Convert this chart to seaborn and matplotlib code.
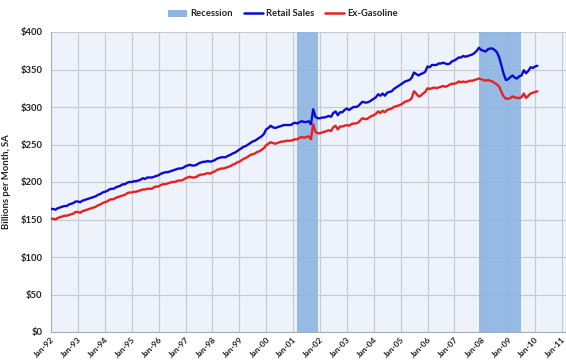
import numpy as np
import pandas as pd
import matplotlib
matplotlib.use("Agg")
import matplotlib.pyplot as plt
from matplotlib.patches import Patch
from matplotlib.lines import Line2D
import seaborn as sns

# Monthly values, Jan-1992 .. Feb-2010 (billions per month, SA)
retail_sales = [
    164, 164, 163, 165, 166, 167, 168, 168, 170, 171, 172, 174,   # 1992
    174, 173, 175, 176, 177, 178, 179, 180, 181, 183, 184, 186,   # 1993
    187, 188, 190, 191, 191, 193, 194, 195, 197, 197, 199, 200,   # 1994
    200, 201, 201, 202, 203, 205, 204, 206, 206, 206, 207, 208,   # 1995
    209, 211, 212, 213, 213, 214, 215, 216, 217, 218, 218, 219,   # 1996
    221, 222, 223, 222, 222, 223, 225, 226, 227, 227, 228, 227,   # 1997
    228, 229, 231, 232, 233, 233, 233, 235, 236, 238, 239, 241,   # 1998
    243, 245, 247, 248, 250, 252, 254, 255, 257, 259, 261, 264,   # 1999
    270, 272, 275, 273, 272, 273, 274, 275, 276, 276, 276, 276,   # 2000
    278, 279, 278, 280, 281, 280, 280, 281, 277, 297, 287, 285,   # 2001
    285, 286, 286, 287, 288, 287, 292, 294, 289, 293, 293, 296,   # 2002
    298, 296, 298, 300, 300, 301, 304, 307, 306, 306, 307, 309,   # 2003
    311, 313, 317, 315, 318, 315, 319, 320, 321, 324, 326, 328,   # 2004
    330, 332, 334, 335, 336, 339, 346, 344, 342, 344, 345, 347,   # 2005
    354, 353, 356, 356, 356, 358, 358, 359, 358, 357, 358, 361,   # 2006
    362, 364, 366, 366, 368, 367, 368, 369, 370, 372, 375, 379,   # 2007
    376, 375, 374, 377, 378, 378, 376, 373, 366, 355, 344, 336,   # 2008
    337, 340, 342, 339, 338, 341, 342, 349, 345, 348, 353, 352,   # 2009
    354, 355,                                                     # 2010
]
ex_gasoline = [
    151, 151, 150, 152, 153, 154, 155, 155, 156, 157, 158, 160,   # 1992
    160, 159, 161, 162, 163, 164, 165, 166, 167, 169, 170, 172,   # 1993
    173, 174, 176, 177, 177, 179, 180, 181, 182, 183, 185, 186,   # 1994
    186, 187, 187, 188, 189, 190, 190, 191, 191, 191, 193, 194,   # 1995
    194, 196, 197, 197, 198, 199, 200, 200, 201, 202, 202, 203,   # 1996
    205, 206, 207, 206, 206, 207, 209, 210, 210, 211, 212, 211,   # 1997
    213, 214, 216, 217, 218, 218, 219, 220, 221, 223, 224, 226,   # 1998
    227, 229, 231, 232, 234, 236, 237, 238, 240, 241, 243, 245,   # 1999
    249, 251, 253, 252, 251, 252, 253, 254, 254, 255, 255, 255,   # 2000
    256, 257, 257, 259, 260, 259, 260, 261, 257, 277, 267, 265,   # 2001
    265, 266, 267, 268, 269, 268, 273, 275, 270, 274, 274, 275,   # 2002
    276, 275, 277, 278, 278, 279, 282, 285, 284, 284, 286, 288,   # 2003
    289, 291, 294, 292, 295, 293, 296, 297, 298, 300, 301, 302,   # 2004
    303, 305, 307, 308, 309, 312, 321, 318, 314, 315, 318, 320,   # 2005
    325, 324, 325, 326, 325, 326, 327, 328, 327, 328, 330, 331,   # 2006
    331, 332, 334, 333, 334, 333, 334, 335, 335, 336, 337, 338,   # 2007
    337, 336, 335, 336, 335, 334, 332, 330, 327, 320, 314, 311,   # 2008
    311, 312, 314, 313, 312, 312, 313, 318, 312, 315, 318, 319,   # 2009
    320, 321,                                                     # 2010
]
recession_starts = ["2001-03-01", "2007-12-01"]
recession_ends = ["2001-11-30", "2009-06-30"]
series_names = ["Retail Sales", "Ex-Gasoline"]
series_colors = ["#0B0BD0", "#E82020"]
recession_color = "#8DB4E2"
y_ticks = [0, 50, 100, 150, 200, 250, 300, 350, 400]
tick_years = list(range(1992, 2012))

dates = pd.date_range("1992-01-01", periods=len(retail_sales), freq="MS")
df = pd.DataFrame({
    "date": np.concatenate([dates, dates]),
    "value": retail_sales + ex_gasoline,
    "series": [series_names[0]] * len(dates) + [series_names[1]] * len(dates),
})

sns.set_theme(style="white")
plt.rcParams["font.family"] = ["Lato", "DejaVu Sans"]

fig = plt.figure(figsize=(5.66, 3.63), dpi=100)
ax = fig.add_axes([51 / 566, 31 / 363, 515 / 566, 300 / 363])
ax.set_facecolor("#EEF3FB")

for s, e in zip(recession_starts, recession_ends):
    ax.axvspan(pd.Timestamp(s), pd.Timestamp(e), color=recession_color, alpha=0.9,
               zorder=1, lw=0)

sns.lineplot(data=df, x="date", y="value", hue="series", palette=series_colors,
             hue_order=series_names, linewidth=1.7, legend=False, ax=ax, zorder=3)

ax.set_ylim(0, 400)
ax.set_yticks(y_ticks)
ax.set_yticklabels([f"${v}" for v in y_ticks])
ax.set_xlim(pd.Timestamp("1992-01-01"), pd.Timestamp("2011-02-25"))
xt = [pd.Timestamp(f"{y}-01-01") for y in tick_years]
ax.set_xticks(xt)
ax.set_xticklabels([f"Jan-{str(y)[2:]}" for y in tick_years], rotation=45,
                   ha="right", rotation_mode="anchor")

ax.grid(True, color="#C6CAD2", lw=0.8, zorder=0)
ax.set_axisbelow(True)
for side in ["top", "right"]:
    ax.spines[side].set_visible(False)
for side in ["left", "bottom"]:
    ax.spines[side].set_color("#A8ACB4")
    ax.spines[side].set_linewidth(0.8)

ax.tick_params(axis="y", length=3, width=0.8, color="#A8ACB4",
               labelsize=6.8, labelcolor="#222222", pad=3)
ax.tick_params(axis="x", length=2, width=0.8, color="#A8ACB4",
               labelsize=6.0, labelcolor="#222222", pad=1)
for lab in ax.get_xticklabels() + ax.get_yticklabels():
    lab.set_fontweight("bold")

ax.set_xlabel("")
ax.set_ylabel("Billions per Month, SA", fontsize=6.8, fontweight="bold",
              color="#222222", labelpad=7)

handles = [
    Patch(facecolor=recession_color, edgecolor="none", label="Recession"),
    Line2D([0], [0], color=series_colors[0], lw=1.8, label=series_names[0]),
    Line2D([0], [0], color=series_colors[1], lw=1.8, label=series_names[1]),
]
leg = fig.legend(handles=handles, loc="center", bbox_to_anchor=(0.5, 1 - 14 / 363),
                 ncol=3, frameon=False, handlelength=2.0, handletextpad=0.3,
                 columnspacing=1.2, prop={"size": 6.8, "weight": "bold"})
for t in leg.get_texts():
    t.set_color("#222222")

fig.savefig("out.png", dpi=100)
